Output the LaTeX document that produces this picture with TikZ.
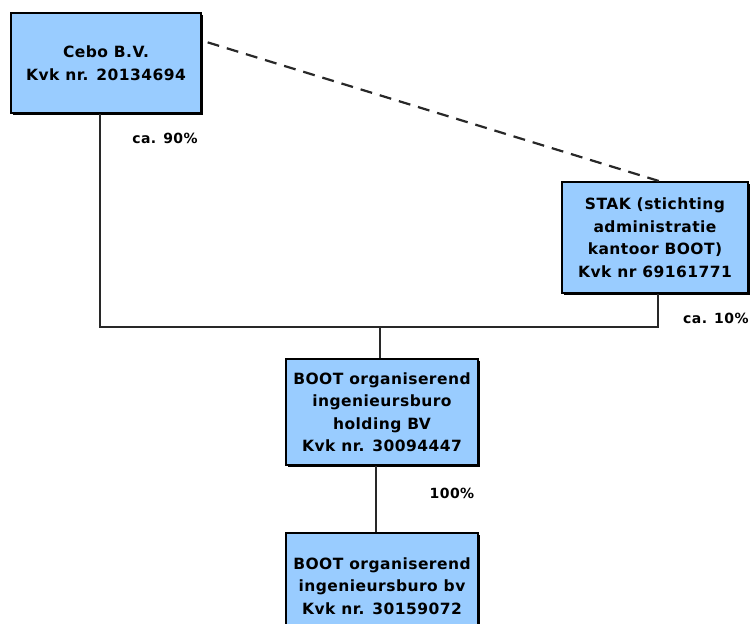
\documentclass[tikz,border=0pt]{standalone}
\usepackage{fontspec}
\setmainfont{DejaVu Sans}[LetterSpace=3]
\usetikzlibrary{shadows}
\definecolor{boxblue}{RGB}{153,204,255}
\definecolor{linegray}{RGB}{40,40,40}
\begin{document}
\begin{tikzpicture}[x=1pt,y=-1pt,
  entity/.style={draw=black, line width=1.3pt, fill=boxblue, align=center,
    font=\bfseries\fontsize{15.5}{22.5}\selectfont, inner sep=0pt,
    drop shadow={shadow xshift=2pt, shadow yshift=-2pt, fill=black, opacity=1}},
  conn/.style={draw=linegray, line width=1.4pt},
  pct/.style={font=\bfseries\fontsize{14}{16}\selectfont, inner sep=0pt}]
\useasboundingbox (0,0) rectangle (750,624);
\node[entity, minimum width=190pt, minimum height=100pt] (cebo) at (106,63)
  {Cebo B.V.\\Kvk nr. 20134694};
\node[entity, minimum width=186pt, minimum height=111pt] (stak) at (655,237.5)
  {STAK (stichting\\administratie\\kantoor BOOT)\\Kvk nr 69161771};
\node[entity, minimum width=192pt, minimum height=106pt] (hold) at (382,412)
  {BOOT organiserend\\ingenieursburo\\holding BV\\Kvk nr. 30094447};
\node[entity, minimum width=192pt, minimum height=106pt] (bv) at (382,586)
  {BOOT organiserend\\ingenieursburo bv\\Kvk nr. 30159072};
\coordinate (j) at (380,327);
\draw[conn] ([xshift=-6pt]cebo.south) -- ([xshift=-6pt]cebo.south |- j)
  -- ([xshift=3pt]stak.south |- j) -- ([xshift=3pt]stak.south);
\draw[conn] (j) -- (j |- hold.north);
\draw[conn] ([xshift=-6pt]hold.south) -- ([xshift=-6pt]bv.north);
\draw[conn, line width=2.2pt, dash pattern=on 12pt off 8pt]
  ([xshift=6pt,yshift=-30pt]cebo.north east) -- ([xshift=5pt]stak.north);
\node[pct] (p90) at (165,138) {ca. 90\%};
\node[pct, anchor=west] (p10) at (683,318) {ca. 10\%};
\node[pct] (p100) at (452,493) {100\%};
\end{tikzpicture}
\end{document}
